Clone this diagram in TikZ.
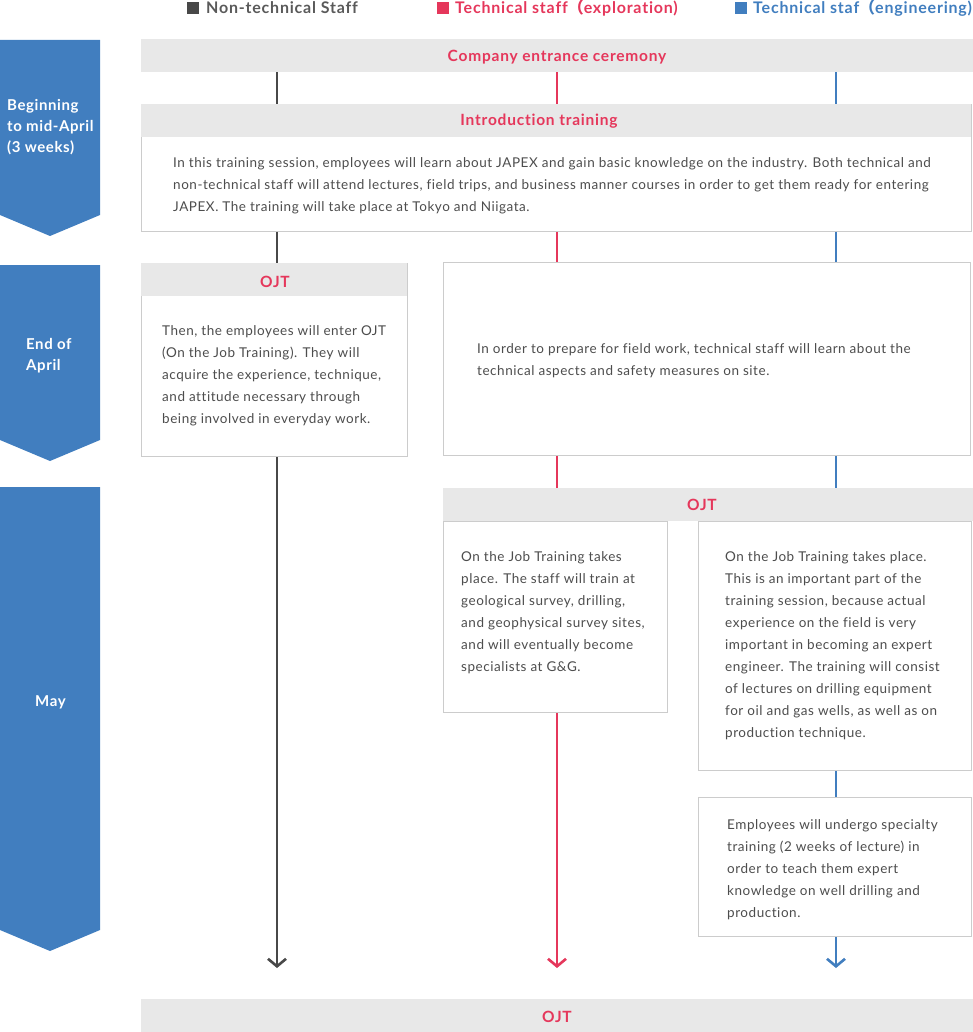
\documentclass[tikz,border=0pt]{standalone}
\usepackage{fontspec}
\setmainfont{Lato}
\newfontfamily\bodyfont[LetterSpace=4,Ligatures=NoCommon]{Lato}
\newfontfamily\headfont[LetterSpace=5,Ligatures=NoCommon]{Lato}
\newfontfamily\cjk{Noto Sans CJK JP}
\usetikzlibrary{arrows.meta}
\definecolor{ngray}{HTML}{484848}
\definecolor{tred}{HTML}{E5375B}
\definecolor{tblue}{HTML}{417EBF}
\definecolor{hdr}{HTML}{E8E8E8}
\definecolor{bord}{HTML}{CCCCCC}
\definecolor{txt}{HTML}{4D4D4D}
\begin{document}
\begin{tikzpicture}[x=1pt,y=-1pt,
  hdrbox/.style={fill=hdr, draw=none, inner sep=0pt},
  bodybox/.style={draw=bord, line width=1pt, fill=white, inner sep=0pt},
  hdrtext/.style={text=tred, font=\headfont\bfseries\fontsize{15.5}{17}\selectfont, inner sep=0pt, yshift=-1.5pt},
  bodytext/.style={text=txt, font=\bodyfont\fontsize{13.5}{22}\selectfont, align=left, inner sep=0pt, anchor=west, yshift=-2pt},
  legtext/.style={font=\headfont\bfseries\fontsize{16}{18}\selectfont, anchor=west, inner sep=0pt},
  period/.style={fill=tblue, draw=none},
  periodtext/.style={text=white, font=\bodyfont\bfseries\fontsize{15}{21}\selectfont, align=left, anchor=west, inner sep=0pt, yshift=-2pt},
  conn/.style={line width=2.6pt},
  arr/.style={line width=2.6pt, -{Straight Barb[length=7.5pt,width=18pt,line width=2.6pt]}}
]
\useasboundingbox (0,0) rectangle (973,1032);

% legend
\fill[ngray] (187,2) rectangle (199,14);
\node[legtext, text=ngray!90] (lg1) at (206,8) {Non-technical Staff};
\fill[tred] (437,2) rectangle (449,14);
\node[legtext, text=tred] (lg2) at (455,8) {Technical staff{\cjk （}exploration)};
\fill[tblue] (735,2) rectangle (747,14);
\node[legtext, text=tblue] (lg3) at (753,8) {Technical staf{\cjk （}engineering)};

% period arrows
\fill[period] (0,40) -- (100,40) -- (100,215) -- (50,236) -- (0,215) -- cycle;
\fill[period] (0,265) -- (100,265) -- (100,440) -- (50,461) -- (0,440) -- cycle;
\fill[period] (0,487) -- (100,487) -- (100,930) -- (50,951) -- (0,930) -- cycle;
\node[periodtext] (p1) at (7,125) {Beginning\\to mid-April\\(3 weeks)};
\node[periodtext] (p2) at (26,353.5) {End of\\April};
\node[periodtext] (p3) at (35,700) {May};

% column coordinates
\coordinate (gx) at (277,0);
\coordinate (rx) at (557,0);
\coordinate (bx) at (836,0);

% ceremony
\node[hdrbox, minimum width=832pt, minimum height=33pt, anchor=north west] (cer) at (141,39) {};
\node[hdrtext] (certxt) at (557,56) {Company entrance ceremony};

% introduction
\node[bodybox, minimum width=830pt, minimum height=127pt, anchor=north west] (intro) at (141,104) {};
\node[hdrbox, minimum width=830pt, minimum height=33pt, anchor=north west] (introh) at (141,104) {};
\node[hdrtext] (introhtxt) at (539,120) {Introduction training};
\node[bodytext] (introtxt) at (173,184) {In this training session, employees will learn about JAPEX and gain basic knowledge on the industry. Both technical and\\non-technical staff will attend lectures, field trips, and business manner courses in order to get them ready for entering\\JAPEX. The training will take place at Tokyo and Niigata.};

% OJT left
\node[bodybox, minimum width=266pt, minimum height=193pt, anchor=north west] (ojtl) at (141,263) {};
\node[hdrbox, minimum width=266pt, minimum height=33pt, anchor=north west] (ojtlh) at (141,263) {};
\node[hdrtext] (ojtlhtxt) at (275,280) {OJT};
\node[bodytext] (ojtltxt) at (162,374) {Then, the employees will enter OJT\\(On the Job Training). They will\\acquire the experience, technique,\\and attitude necessary through\\being involved in everyday work.};

% field prep
\node[bodybox, minimum width=527pt, minimum height=193pt, anchor=north west] (prep) at (443,262) {};
\node[bodytext] (preptxt) at (477,359) {In order to prepare for field work, technical staff will learn about the\\technical aspects and safety measures on site.};

% OJT right header
\node[hdrbox, minimum width=530pt, minimum height=33pt, anchor=north west] (ojtr) at (443,488) {};
\node[hdrtext] (ojtrtxt) at (702,503) {OJT};

% exploration box
\node[bodybox, minimum width=224pt, minimum height=191pt, anchor=north west] (expl) at (443,521) {};
\node[bodytext] (expltxt) at (461,611) {On the Job Training takes\\place. The staff will train at\\geological survey, drilling,\\and geophysical survey sites,\\and will eventually become\\specialists at G\&G.};

% engineering box
\node[bodybox, minimum width=273pt, minimum height=249pt, anchor=north west] (eng) at (698,521) {};
\node[bodytext] (engtxt) at (725,644) {On the Job Training takes place.\\This is an important part of the\\training session, because actual\\experience on the field is very\\important in becoming an expert\\engineer. The training will consist\\of lectures on drilling equipment\\for oil and gas wells, as well as on\\production technique.};

% specialty box
\node[bodybox, minimum width=273pt, minimum height=139pt, anchor=north west] (spec) at (698,797) {};
\node[bodytext] (spectxt) at (727,868) {Employees will undergo specialty\\training (2 weeks of lecture) in\\order to teach them expert\\knowledge on well drilling and\\production.};

% bottom OJT
\node[hdrbox, minimum width=832pt, minimum height=33pt, anchor=north west] (ojtb) at (141,999) {};
\node[hdrtext] (ojtbtxt) at (557,1015) {OJT};

% end points of arrows
\coordinate (ge) at (277,968);
\coordinate (re) at (557,968);
\coordinate (be) at (836,968);

% connectors: non-technical
\draw[conn, ngray] (cer.south -| gx) -- (intro.north -| gx);
\draw[conn, ngray] (intro.south -| gx) -- (ojtl.north -| gx);
\draw[arr, ngray] (ojtl.south -| gx) -- (ge);
% exploration
\draw[conn, tred] (cer.south -| rx) -- (intro.north -| rx);
\draw[conn, tred] (intro.south -| rx) -- (prep.north -| rx);
\draw[conn, tred] (prep.south -| rx) -- (ojtr.north -| rx);
\draw[arr, tred] (expl.south -| rx) -- (re);
% engineering
\draw[conn, tblue] (cer.south -| bx) -- (intro.north -| bx);
\draw[conn, tblue] (intro.south -| bx) -- (prep.north -| bx);
\draw[conn, tblue] (prep.south -| bx) -- (ojtr.north -| bx);
\draw[conn, tblue] (eng.south -| bx) -- (spec.north -| bx);
\draw[arr, tblue] (spec.south -| bx) -- (be);
\end{tikzpicture}
\end{document}
